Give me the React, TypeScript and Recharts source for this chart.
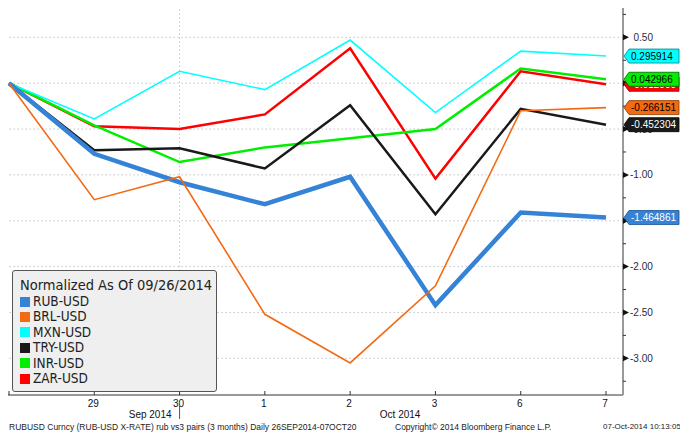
import React from 'react';
import { LineChart, Line, XAxis, YAxis, ReferenceLine } from 'recharts';

const dates = ['26', '29', '30', '1', '2', '3', '6', '7'];
const rub = [0, -0.77, -1.08, -1.32, -1.02, -2.42, -1.41, -1.464861];
const brl = [0, -1.27, -1.02, -2.52, -3.05, -2.21, -0.3, -0.266151];
const mxn = [0, -0.39, 0.13, -0.07, 0.47, -0.32, 0.35, 0.295914];
const tryv = [0, -0.73, -0.71, -0.93, -0.24, -1.43, -0.28, -0.452304];
const inr = [0, -0.46, -0.86, -0.7, -0.6, -0.5, 0.16, 0.042966];
const zar = [0, -0.47, -0.5, -0.34, 0.38, -1.04, 0.13, -0.012];

const yMajor = [0.5, 0, -0.5, -1, -1.5, -2, -2.5, -3];
const yMinor = [0.75, 0.25, -0.25, -0.75, -1.25, -1.75, -2.25, -2.75, -3.25];
const legendTitle = 'Normalized As Of 09/26/2014';
const monthLabels = ['Sep 2014', 'Oct 2014'];
const footer = [
  'RUBUSD Curncy (RUB-USD X-RATE) rub vs3 pairs (3 months)  Daily 26SEP2014-07OCT20',
  'Copyright\u00A9 2014 Bloomberg Finance L.P.',
  '07-Oct-2014 10:13:05',
];

const series = [
  { key: 'zar', name: 'ZAR-USD', color: '#ff0000', width: 2.5, text: '#ffffff', border: '#900000' },
  { key: 'inr', name: 'INR-USD', color: '#00ee00', width: 2.5, text: '#000000', border: '#006000' },
  { key: 'try', name: 'TRY-USD', color: '#1a1a1a', width: 2.5, text: '#ffffff', border: '#000000' },
  { key: 'mxn', name: 'MXN-USD', color: '#00ffff', width: 1.6, text: '#000000', border: '#008080' },
  { key: 'rub', name: 'RUB-USD', color: '#3583d6', width: 4.5, text: '#ffffff', border: '#1a4f8a' },
  { key: 'brl', name: 'BRL-USD', color: '#f26a12', width: 1.6, text: '#000000', border: '#8a3a00' },
];
const legendOrder = ['rub', 'brl', 'mxn', 'try', 'inr', 'zar'];

const data = dates.map((d, i) => ({
  date: d,
  rub: rub[i],
  brl: brl[i],
  mxn: mxn[i],
  try: tryv[i],
  inr: inr[i],
  zar: zar[i],
}));

const FONT = '"Liberation Sans", Arial, sans-serif';

const fmt = (v: number) => (v < 0 ? '-' + Math.abs(v).toFixed(2) : v.toFixed(2));

const YTick = (props: any) => {
  const { x, y, payload } = props;
  const v = payload.value;
  const major = yMajor.some((m) => Math.abs(m - v) < 1e-6);
  if (!major) {
    return <line x1={x} y1={y} x2={x + 3} y2={y} stroke="#333" strokeWidth={1} />;
  }
  return (
    <g>
      <polygon points={`${x},${y - 3} ${x + 6},${y} ${x},${y + 3}`} fill="#111" />
      <text x={v < 0 ? x + 7 : x + 10.5} y={y + 3.5} fontSize={10} fontFamily={FONT} fill="#2a2a3a">
        {fmt(v)}
      </text>
    </g>
  );
};

const XTick = (props: any) => {
  const { x, y, payload } = props;
  const v = payload.value;
  return (
    <g>
      <line x1={x} y1={y - 4} x2={x} y2={y} stroke="#333" strokeWidth={1} />
      {v !== dates[0] && (
        <text x={x - 1} y={y + 12} textAnchor="middle" fontSize={10} fontFamily={FONT} fill="#111">
          {v}
        </text>
      )}
      {v === '30' && (
        <g>
          <text x={x - 8} y={y + 23} textAnchor="end" fontSize={10} fontFamily={FONT} fill="#111">
            {monthLabels[0]}
          </text>
          <line x1={x} y1={y + 11} x2={x} y2={y + 24} stroke="#555" strokeWidth={1} />
        </g>
      )}
      {v === '2' && (
        <text x={x + 50} y={y + 23} textAnchor="middle" fontSize={10} fontFamily={FONT} fill="#111">
          {monthLabels[1]}
        </text>
      )}
    </g>
  );
};

const makeTag = (s: any) => (p: any) => {
  const { x, y, index, value } = p;
  if (index !== dates.length - 1) return <g />;
  const tx = x + 18;
  const h = 7;
  return (
    <g>
      <polygon
        points={`${tx},${y} ${tx + 5},${y - h} ${679},${y - h} ${679},${y + h} ${tx + 5},${y + h}`}
        fill={s.color}
        stroke={s.border}
        strokeWidth={0.8}
      />
      <text x={tx + 7} y={y + 3.5} fontSize={10} fontFamily={FONT} fill={s.text}>
        {Number(value).toFixed(6)}
      </text>
    </g>
  );
};

export default function App() {
  return (
    <div
      style={{
        position: 'absolute',
        left: 0,
        top: 0,
        width: 680,
        height: 434,
        background: '#ffffff',
        overflow: 'hidden',
        fontFamily: FONT,
      }}
    >
      <LineChart width={680} height={434} data={data} margin={{ top: 8, right: 0, bottom: 0, left: 8 }}>
        {yMajor.map((v) => (
          <ReferenceLine key={'h' + v} y={v} stroke="#c4c4cc" strokeDasharray="1.5 2.5" strokeWidth={1} />
        ))}
        <ReferenceLine x="30" stroke="#c4c4cc" strokeDasharray="1.5 2.5" strokeWidth={1} />
        <XAxis
          dataKey="date"
          height={39}
          padding={{ left: 1, right: 17 }}
          tickLine={false}
          tickSize={0}
          tickMargin={0}
          interval={0}
          axisLine={{ stroke: '#333', strokeWidth: 1 }}
          tick={<XTick />}
        />
        <YAxis
          orientation="right"
          width={57}
          domain={[-3.4, 0.82]}
          ticks={[...yMajor, ...yMinor].sort((a, b) => b - a)}
          interval={0}
          tickLine={false}
          tickSize={0}
          tickMargin={0}
          axisLine={{ stroke: '#999', strokeWidth: 2 }}
          tick={<YTick />}
          allowDataOverflow
        />
        {series.map((s) => (
          <Line
            key={s.key}
            type="linear"
            dataKey={s.key}
            stroke={s.color}
            strokeWidth={s.width}
            dot={false}
            activeDot={false}
            isAnimationActive={false}
            label={makeTag(s)}
          />
        ))}
      </LineChart>

      <div
        style={{
          position: 'absolute',
          left: 12,
          top: 270,
          width: 205,
          height: 122,
          background: '#efefef',
          border: '1px solid #555',
          borderRadius: 3,
          boxSizing: 'border-box',
          padding: '7px 0 0 7px',
          fontSize: 13.5,
          lineHeight: '15.4px',
          color: '#222',
          fontFamily: '"DejaVu Sans Condensed", "DejaVu Sans", sans-serif',
        }}
      >
        <div style={{ fontSize: 14.5, marginBottom: 0.5 }}>{legendTitle}</div>
        {legendOrder.map((k) => {
          const s = series.find((q) => q.key === k)!;
          return (
            <div key={k} style={{ display: 'flex', alignItems: 'center' }}>
              <span
                style={{
                  display: 'inline-block',
                  width: 10,
                  height: 10,
                  background: s.color,
                  marginRight: 3,
                }}
              />
              <span>{s.name}</span>
            </div>
          );
        })}
      </div>

      <div style={{ position: 'absolute', left: 9, top: 422, fontSize: 8.5, color: '#222', whiteSpace: 'nowrap' }}>
        {footer[0]}
      </div>
      <div style={{ position: 'absolute', left: 395, top: 422, fontSize: 8.5, color: '#222', whiteSpace: 'nowrap' }}>
        {footer[1]}
      </div>
      <div style={{ position: 'absolute', left: 603, top: 422, fontSize: 8, color: '#222', whiteSpace: 'nowrap' }}>
        {footer[2]}
      </div>
    </div>
  );
}
